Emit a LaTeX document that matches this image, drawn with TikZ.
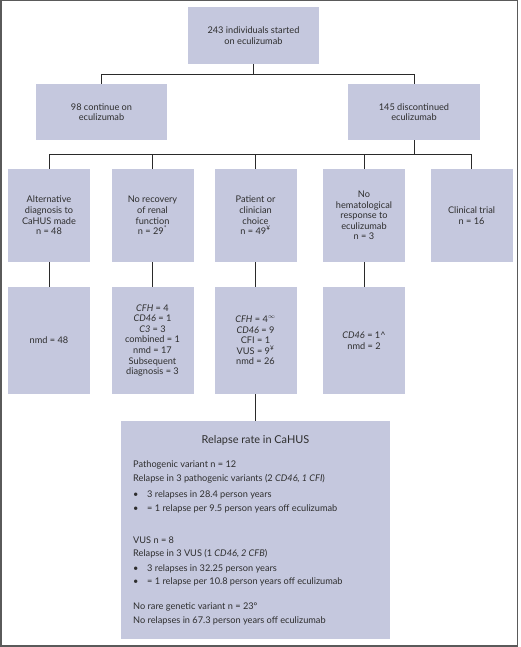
\documentclass[tikz,border=0pt]{standalone}
\usepackage{fontspec}
\setmainfont{Lato}
\definecolor{boxfill}{HTML}{C5C8DE}
\definecolor{textgray}{HTML}{2E2E2E}
\definecolor{linegray}{HTML}{2A2A2A}
\definecolor{framegray}{HTML}{5A5A5A}
\begin{document}
\begin{tikzpicture}[x=1pt,y=-1pt,
  box/.style={fill=boxfill, draw=none, align=center, text=textgray,
    font=\fontsize{9.2}{10.6}\selectfont, inner sep=0pt},
  colbox/.style={box, minimum width=82pt},
  conn/.style={draw=linegray, line width=1pt},
  txt/.style={anchor=base west, inner sep=0pt, text=textgray, font=\fontsize{9.2}{10.6}\selectfont},
  bul/.style={anchor=base west, inner sep=0pt, text=textgray, font=\fontsize{9.2}{10.6}\selectfont}]
\useasboundingbox (0,0) rectangle (520,647);
\draw[framegray, line width=1.5pt] (0.75,0.75) rectangle (517.5,645.75);

\node[box, minimum width=131pt, minimum height=57pt] (top) at (253.5,35.5) {243 individuals started\\on eculizumab};
\node[box, minimum width=131pt, minimum height=56pt] (cont) at (101.5,112) {98 continue on\\eculizumab};
\node[box, minimum width=132pt, minimum height=56pt] (disc) at (414,112) {145 discontinued\\eculizumab};

\node[colbox, minimum height=93pt] (a1) at (49,215.5) {Alternative\\diagnosis to\\CaHUS made\\n = 48};
\node[colbox, minimum height=93pt] (a2) at (152.5,215.5) {No recovery\\of renal\\function\\n = 29\textsuperscript{*}};
\node[colbox, minimum height=93pt] (a3) at (255.5,215.5) {Patient or\\clinician\\choice\\n = 49\textsuperscript{¥}};
\node[colbox, minimum height=93pt] (a4) at (364,215.5) {No\\hematological\\response to\\eculizumab\\n = 3};
\node[colbox, minimum height=93pt] (a5) at (471.5,215.5) {Clinical trial\\n = 16};

\node[colbox, minimum height=107pt] (b1) at (49,340.5) {nmd = 48};
\node[colbox, minimum height=107pt] (b2) at (152.5,340.5) {\textit{CFH} = 4\\\textit{CD46} = 1\\\textit{C3} = 3\\combined = 1\\nmd = 17\\Subsequent\\diagnosis = 3};
\node[colbox, minimum height=107pt] (b3) at (255.5,340.5) {\textit{CFH} = 4\textsuperscript{$\infty$}\\\textit{CD46} = 9\\CFI = 1\\VUS = 9\textsuperscript{¥}\\nmd = 26};
\node[colbox, minimum height=107pt] (b4) at (364,340.5) {\textit{CD46} = 1\textasciicircum\\nmd = 2};

\node[box, minimum width=269pt, minimum height=218pt] (big) at (255.5,530) {};

\draw[conn] (top.south) -- ++(0,10) -| (cont.north);
\draw[conn] (top.south) -- ++(0,10) -| (disc.north);
\foreach \n in {a1,a2,a3,a4,a5}{
  \draw[conn] (disc.south) -- ++(0,14) -| (\n.north);
}
\draw[conn] (a1.south) -- (b1.north);
\draw[conn] (a2.south) -- (b2.north);
\draw[conn] (a3.south) -- (b3.north);
\draw[conn] (a4.south) -- (b4.north);
\draw[conn] (b3.south) -- (big.north);

\node[anchor=base, inner sep=0pt, text=textgray, font=\fontsize{10.9}{12}\selectfont] (title) at (255.5,443) {Relapse rate in CaHUS};
\node[txt] (r1) at (133,467) {Pathogenic variant n = 12};
\node[txt] (r2) at (133,481) {Relapse in 3 pathogenic variants (2 \textit{CD46, 1 CFI})};
\node[bul] (d1) at (133,497) {•};
\node[txt] (r3) at (147,497) {3 relapses in 28.4 person years};
\node[bul] (d2) at (133,511) {•};
\node[txt] (r4) at (147,511) {= 1 relapse per 9.5 person years off eculizumab};
\node[txt] (r5) at (133,543) {VUS n = 8};
\node[txt] (r6) at (133,556) {Relapse in 3 VUS (1 \textit{CD46, 2 CFB})};
\node[bul] (d3) at (133,571) {•};
\node[txt] (r7) at (147,571) {3 relapses in 32.25 person years};
\node[bul] (d4) at (133,584) {•};
\node[txt] (r8) at (147,584) {= 1 relapse per 10.8 person years off eculizumab};
\node[txt] (r9) at (133,609) {No rare genetic variant n = 23º};
\node[txt] (r10) at (133,623) {No relapses in 67.3 person years off eculizumab};
\end{tikzpicture}
\end{document}
